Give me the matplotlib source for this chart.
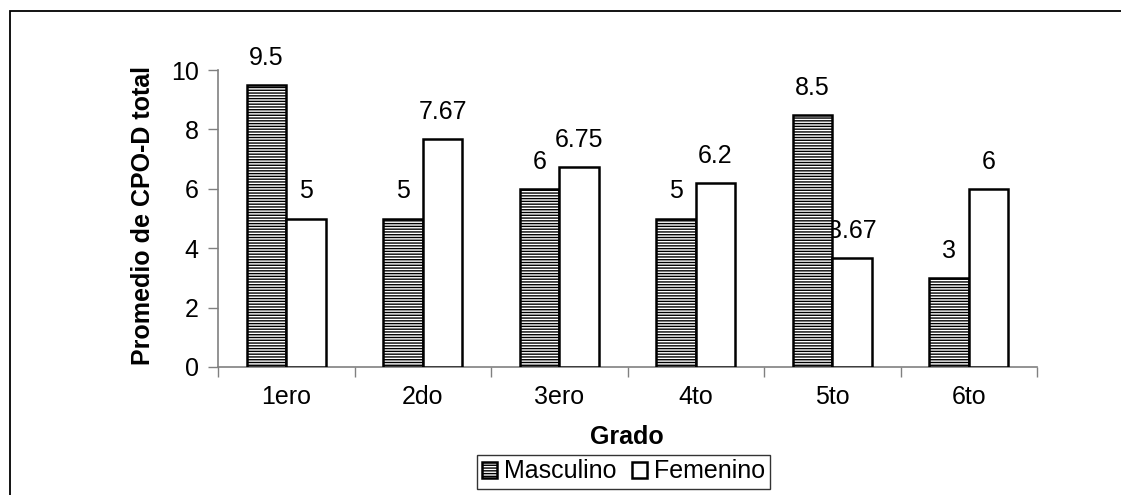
import matplotlib
matplotlib.use("Agg")
import matplotlib.pyplot as plt
from matplotlib.patches import Rectangle
import numpy as np

plt.rcParams['font.family'] = ['Liberation Sans', 'DejaVu Sans']
plt.rcParams['hatch.linewidth'] = 1.0

grados = ["1ero", "2do", "3ero", "4to", "5to", "6to"]
masculino = [9.5, 5, 6, 5, 8.5, 3]
femenino = [5, 7.67, 6.75, 6.2, 3.67, 6]
etiquetas_m = ["9.5", "5", "6", "5", "8.5", "3"]
etiquetas_f = ["5", "7.67", "6.75", "6.2", "3.67", "6"]

W, H = 1121, 495
FS = 18
fig = plt.figure(figsize=(W / 100, H / 100), dpi=100)
fig.patch.set_facecolor("white")

# outer chart frame (runs off the right and bottom edges)
fig.patches.append(Rectangle((10 / W, -0.2), 1.2, 1.2 - 11 / H, transform=fig.transFigure,
                             fill=False, edgecolor="black", linewidth=1.3))

ax = fig.add_axes([218 / W, 1 - 367 / H, (1037 - 218) / W, (367 - 70) / H])
x = np.arange(len(grados))
bw = 0.29

bm = ax.bar(x - bw / 2, masculino, bw, facecolor="white", edgecolor="black",
            hatch="------", linewidth=1.8, zorder=3)
bf = ax.bar(x + bw / 2, femenino, bw, facecolor="white", edgecolor="black",
            linewidth=1.8, zorder=3)

for xi, v, t in zip(x - bw / 2, masculino, etiquetas_m):
    ax.annotate(t, (xi, v), xytext=(0, 15), textcoords="offset pixels",
                ha="center", va="bottom", fontsize=FS, zorder=2)
for xi, v, t in zip(x + bw / 2, femenino, etiquetas_f):
    ax.annotate(t, (xi, v), xytext=(0, 15), textcoords="offset pixels",
                ha="center", va="bottom", fontsize=FS, zorder=2)

ax.set_xlim(-0.5, len(grados) - 0.5)
ax.set_ylim(0, 10)
ax.set_yticks([0, 2, 4, 6, 8, 10])
ax.set_xticks(x)
ax.set_xticklabels(grados)
ax.set_xticks(np.arange(-0.5, len(grados)), minor=True)
ax.tick_params(axis="x", which="major", length=0, pad=13, labelsize=FS)
ax.tick_params(axis="x", which="minor", length=7, width=1, color="#808080", direction="out")
ax.tick_params(axis="y", length=7, width=1, color="#808080", direction="out", pad=7, labelsize=FS)

for s in ["top", "right"]:
    ax.spines[s].set_visible(False)
for s in ["left", "bottom"]:
    ax.spines[s].set_color("#808080")
    ax.spines[s].set_linewidth(1.2)

fig.text(627 / W, 1 - 437 / H, "Grado", ha="center", va="center",
         fontsize=FS, fontweight="bold")
fig.text(143 / W, 1 - 216 / H, "Promedio de CPO-D total", ha="center", va="center",
         rotation=90, fontsize=FS, fontweight="bold")

leg = fig.legend([bm, bf], ["Masculino", "Femenino"], loc="center",
                 bbox_to_anchor=(623.5 / W, 1 - 471.5 / H), ncol=2, fontsize=FS,
                 frameon=True, fancybox=False, edgecolor="black", handlelength=0.6,
                 handleheight=0.6, handletextpad=0.3, columnspacing=0.6,
                 borderpad=0.2, borderaxespad=0)
leg.get_frame().set_linewidth(1.0)

fig.savefig("out.png", dpi=100, facecolor="white")
